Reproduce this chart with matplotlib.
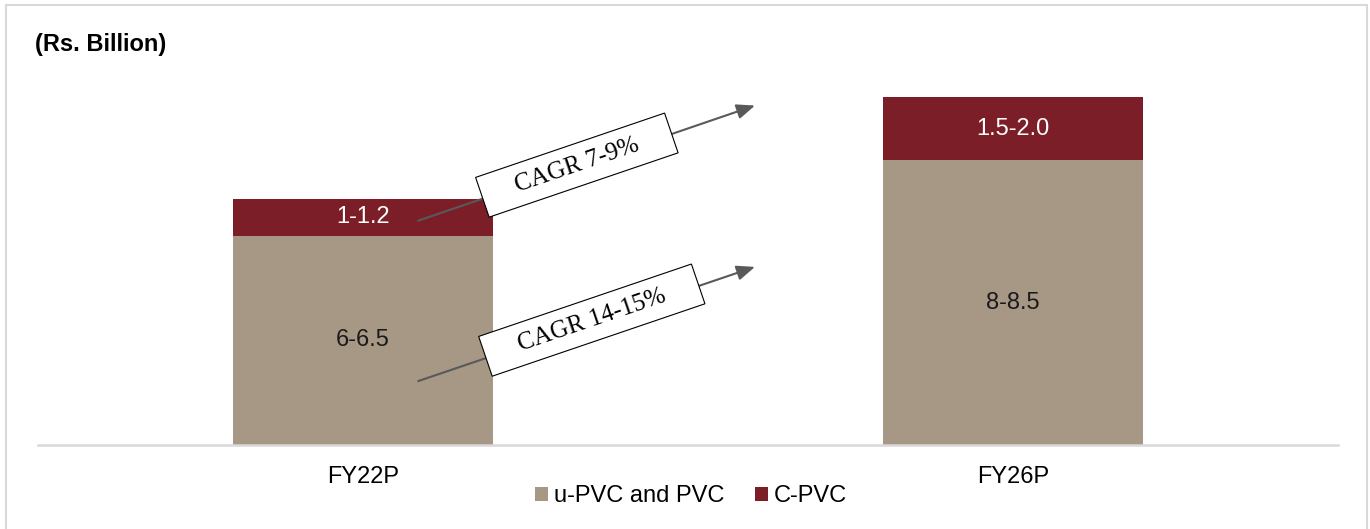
import matplotlib
matplotlib.use("Agg")
import matplotlib.pyplot as plt
from matplotlib.patches import Rectangle

plt.rcParams['font.family'] = ['Liberation Sans', 'DejaVu Sans']

years = ["FY22P", "FY26P"]
upvc = [6.25, 8.5]
cpvc = [1.1, 1.9]
upvc_labels = ["6-6.5", "8-8.5"]
cpvc_labels = ["1-1.2", "1.5-2.0"]
series_names = ["u-PVC and PVC", "C-PVC"]
cagr_labels = ["CAGR 7-9%", "CAGR 14-15%"]

tan = "#A79885"
maroon = "#7B1E28"

W, H = 1370, 529
fig = plt.figure(figsize=(W / 100, H / 100), dpi=100)
ax = fig.add_axes([38 / W, 1 - 445 / H, 1300 / W, 385 / H])

x = list(range(len(years)))
ax.bar(x, upvc, width=0.4, color=tan, label=series_names[0])
ax.bar(x, cpvc, width=0.4, bottom=upvc, color=maroon, label=series_names[1])

for i in x:
    ax.text(i, upvc[i] / 2, upvc_labels[i], ha="center", va="center",
            fontsize=17, color="#1a1a1a")
    ax.text(i, upvc[i] + cpvc[i] / 2, cpvc_labels[i], ha="center", va="center",
            fontsize=17, color="white")

ax.set_xlim(-0.5, 1.5)
ax.set_ylim(0, 11.5)
ax.set_xticks(x)
ax.set_xticklabels(years, fontsize=17)
ax.tick_params(axis="x", length=0, pad=15)
ax.set_yticks([])
for s in ["top", "left", "right"]:
    ax.spines[s].set_visible(False)
ax.spines["bottom"].set_color("#D9D9D9")
ax.spines["bottom"].set_linewidth(1.8)

# CAGR arrows with rotated boxes
arrows = [((0.085, 6.70), (0.603, 10.14)), ((0.085, 1.91), (0.603, 5.32))]
box_pos = [(0.329, 8.36), (0.352, 3.73)]
for (start, end), pos, lab in zip(arrows, box_pos, cagr_labels):
    ax.annotate("", xy=end, xytext=start,
                arrowprops=dict(arrowstyle="-|>,head_length=1.1,head_width=0.45",
                                color="#595959", lw=1.5, shrinkA=0, shrinkB=0))
    ax.text(pos[0], pos[1], "    " + lab + "    ", rotation=18.8,
            rotation_mode="anchor", ha="center", va="center", fontsize=18,
            family="Liberation Serif",
            bbox=dict(boxstyle="square,pad=0.4", fc="white", ec="black", lw=0.8))

fig.text(35 / W, 1 - 45 / H, "(Rs. Billion)", fontsize=17, fontweight="bold",
         ha="left", va="center")

ax.legend(loc="center", bbox_to_anchor=(691 / W, 1 - 496 / H),
          bbox_transform=fig.transFigure, ncol=2, frameon=False,
          fontsize=17, handlelength=0.55, handleheight=0.55,
          handletextpad=0.25, columnspacing=1.3)

fig.patches.append(Rectangle((6 / W, -0.02), 1361 / W, 1 - 5 / H + 0.02,
                             transform=fig.transFigure, fill=False,
                             ec="#D9D9D9", lw=1.5, clip_on=False))

fig.savefig("out.png", dpi=100)
